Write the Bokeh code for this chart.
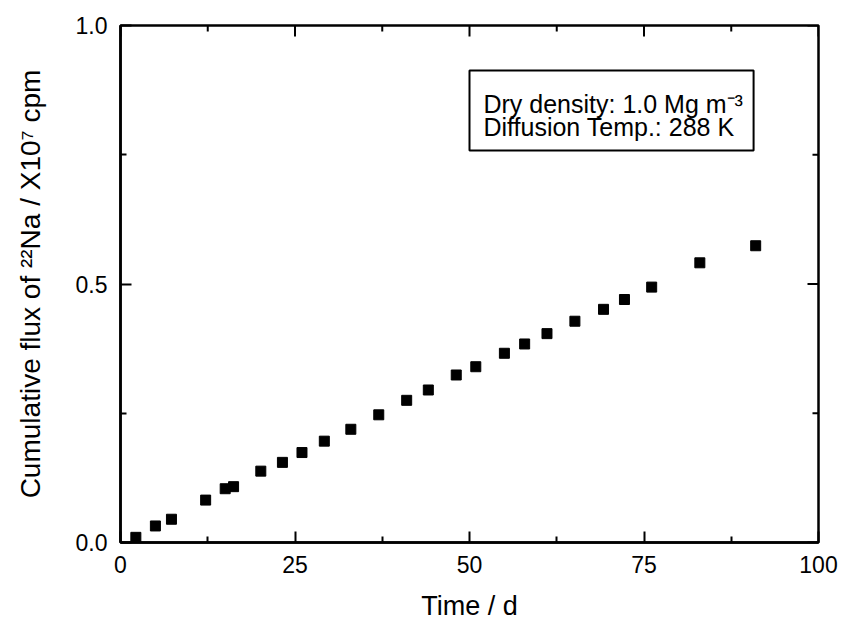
from bokeh.plotting import figure
from bokeh.models import LinearAxis, Label, BoxAnnotation, FixedTicker, Range1d
from bokeh.embed import file_html
from bokeh.resources import INLINE

# Data
time_d = [2.2, 5.0, 7.3, 12.2, 15.0, 16.2, 20.1, 23.2, 26.0, 29.2, 33.0, 37.0,
          41.0, 44.1, 48.1, 50.9, 55.0, 57.9, 61.1, 65.1, 69.2, 72.2, 76.1, 83.0, 91.0]
cum_flux = [0.010, 0.032, 0.045, 0.082, 0.104, 0.108, 0.138, 0.155, 0.174, 0.196,
            0.219, 0.247, 0.275, 0.295, 0.324, 0.340, 0.366, 0.384, 0.404, 0.428,
            0.451, 0.470, 0.494, 0.541, 0.574]

x_ticks = [0, 25, 50, 75, 100]
x_minor = [12.5, 37.5, 62.5, 87.5]
y_ticks = [0.0, 0.5, 1.0]
y_minor = [0.25, 0.75]
y_tick_labels = ["0.0", "0.5", "1.0"]

FONT = "Liberation Sans"
X0, X1, Y0, Y1 = 0, 100, 0, 1

p = figure(width=843, height=625, x_range=Range1d(X0, X1), y_range=Range1d(Y0, Y1),
           output_backend="svg", toolbar_location=None,
           x_axis_type=None, y_axis_type=None,
           min_border_left=120, min_border_right=25, min_border_top=25, min_border_bottom=83)
p.xgrid.visible = False
p.ygrid.visible = False
p.outline_line_color = "black"
p.outline_line_width = 2.5
p.outline_line_alpha = 1.0
p.background_fill_color = "white"
p.border_fill_color = "white"


def style(ax):
    ax.axis_line_width = 2.5
    ax.axis_line_color = "black"
    ax.major_tick_in = 11
    ax.major_tick_out = 0
    ax.minor_tick_in = 6
    ax.minor_tick_out = 0
    ax.major_tick_line_width = 2
    ax.minor_tick_line_width = 2
    ax.major_tick_line_color = "black"
    ax.minor_tick_line_color = "black"
    ax.major_label_text_font = FONT
    ax.major_label_text_font_size = "23px"
    ax.major_label_text_color = "black"
    ax.axis_label_text_font = FONT
    ax.axis_label_text_font_size = "27px"
    ax.axis_label_text_font_style = "normal"
    ax.axis_label_text_color = "black"


xb = LinearAxis(ticker=FixedTicker(ticks=x_ticks, minor_ticks=x_minor), axis_label="Time / d")
style(xb)
xb.major_label_standoff = 13
xb.axis_label_standoff = 15
p.add_layout(xb, "below")

yl = LinearAxis(ticker=FixedTicker(ticks=y_ticks, minor_ticks=y_minor),
                axis_label="Cumulative flux of \u00b2\u00b2Na / X10\u2077 cpm")
style(yl)
yl.axis_label_text_font_size = "28px"
yl.major_label_standoff = 13
yl.axis_label_standoff = 27
yl.major_label_overrides = {t: s for t, s in zip(y_ticks, y_tick_labels)}
p.add_layout(yl, "left")

# Inward ticks on the top and right frame edges (pixel lengths converted to data units)
dx_maj = 11 / 698 * (X1 - X0)
dx_min = 6 / 698 * (X1 - X0)
dy_maj = 11 / 517 * (Y1 - Y0)
dy_min = 6 / 517 * (Y1 - Y0)
p.segment(x0=x_ticks, y0=[Y1] * len(x_ticks), x1=x_ticks, y1=[Y1 - dy_maj] * len(x_ticks),
          line_color="black", line_width=2)
p.segment(x0=x_minor, y0=[Y1] * len(x_minor), x1=x_minor, y1=[Y1 - dy_min] * len(x_minor),
          line_color="black", line_width=2)
p.segment(x0=[X1] * len(y_ticks), y0=y_ticks, x1=[X1 - dx_maj] * len(y_ticks), y1=y_ticks,
          line_color="black", line_width=2)
p.segment(x0=[X1] * len(y_minor), y0=y_minor, x1=[X1 - dx_min] * len(y_minor), y1=y_minor,
          line_color="black", line_width=2)

p.scatter(time_d, cum_flux, marker="square", size=10, fill_color="black", line_color="black")

# Info box
box = BoxAnnotation(left=50.0, right=90.7, bottom=0.758, top=0.913,
                    fill_color="white", fill_alpha=1.0, line_color="black",
                    line_alpha=1.0, line_width=2)
p.add_layout(box)
for txt, yy in [("Dry density: 1.0 Mg m\u207b\u00b3", 0.848),
                ("Diffusion Temp.: 288 K", 0.803)]:
    p.add_layout(Label(x=52.0, y=yy, text=txt, text_font=FONT, text_font_size="25px",
                       text_color="black", text_baseline="alphabetic", text_align="left"))

open("out.html", "w").write(file_html(p, INLINE))
